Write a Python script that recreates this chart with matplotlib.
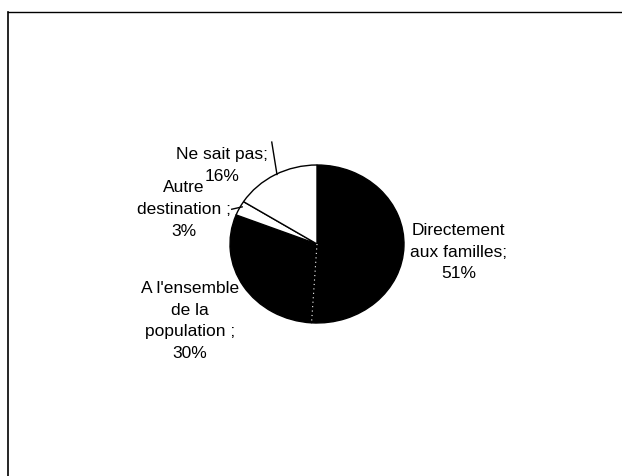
import numpy as np
import matplotlib
matplotlib.use("Agg")
import matplotlib.pyplot as plt
from matplotlib.lines import Line2D

# -----------------------------
# Data
# -----------------------------
labels = ["Directement\naux familles;", "A l'ensemble\nde la\npopulation ;",
          "Autre\ndestination ;", "Ne sait pas;"]
values = [51, 30, 3, 16]
colors = ["black", "black", "white", "white"]

# label placement (data units, 1 unit = radius)
label_pos = [(1.63, -0.09), (-1.46, -0.96), (-1.53, 0.45), (-1.09, 1.01)]

# -----------------------------
# Figure
# -----------------------------
W, H = 622, 477
fig = plt.figure(figsize=(W / 100, H / 100), dpi=100)
ax = fig.add_axes([0, 0, 1, 1])

wedges, _ = ax.pie(values, colors=colors, startangle=90, counterclock=False,
                   wedgeprops=dict(edgecolor="black", linewidth=1.0))

# pie centre at (317, 232) px, radius 87 px wide / 79 px high (scan is squashed)
cx, cy, rx, ry = 317, 477 - 245, 87, 79
ax.set_aspect("auto")
ax.set_xlim(-cx / rx, (W - cx) / rx)
ax.set_ylim(-cy / ry, (H - cy) / ry)
ax.axis("off")

# white dotted seam between the two black slices
th = np.deg2rad(wedges[0].theta1)
ax.plot([0, np.cos(th)], [0, np.sin(th)], color="white", lw=0.8, ls=(0, (1, 3)))

for lab, val, (x, y) in zip(labels, values, label_pos):
    ax.text(x, y, f"{lab}\n{val}%", ha="center", va="center", fontsize=12.5,
            family="Liberation Sans", linespacing=1.55)

# leader lines for the two small slices
for (x0, y0), (x1, y1) in [((-0.52, 1.29), (-0.46, 0.88)),
                           ((-0.98, 0.44), (-0.86, 0.47))]:
    ax.plot([x0, x1], [y0, y1], color="black", lw=1.0)

# chart area border (cropped in the scan)
fig.add_artist(Line2D([8 / W, 1], [1 - 13 / H, 1 - 13 / H], color="black", lw=1.0,
                      transform=fig.transFigure))
fig.add_artist(Line2D([8 / W, 8 / W], [0, 1 - 13 / H], color="black", lw=1.2,
                      transform=fig.transFigure))

fig.savefig("out.png", dpi=100)
